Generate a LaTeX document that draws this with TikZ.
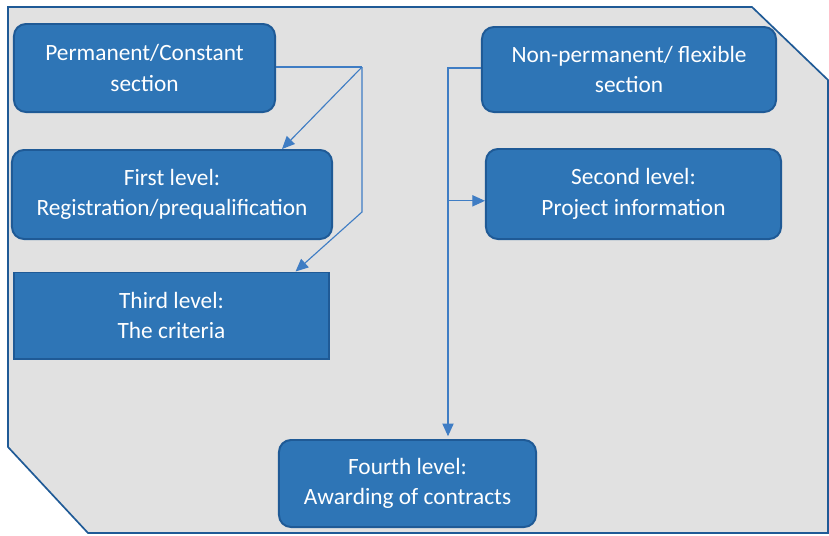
\documentclass[tikz,border=0pt]{standalone}
\usepackage{fontspec}
\setmainfont{Carlito}
\usetikzlibrary{arrows.meta}
\definecolor{boxblue}{HTML}{2E75B6}
\definecolor{boxedge}{HTML}{1F5A96}
\definecolor{linkblue}{HTML}{3F7DC4}
\definecolor{panelgray}{HTML}{E1E1E1}
\tikzset{
  level/.style={draw=boxedge, line width=1.4pt, fill=boxblue, text=white, rounded corners=0.3cm,
    align=center, font=\fontsize{16.6}{21.5}\selectfont, inner sep=0pt},
  flatlevel/.style={level, rounded corners=0pt},
  link/.style={draw=linkblue, line width=0.8pt},
  arr/.style={link, -{Triangle[length=9pt, width=8pt]}}
}
\begin{document}
\begin{tikzpicture}[x=0.025cm, y=-0.025cm]
    \useasboundingbox (0,0) rectangle (829,535);
	\filldraw[fill=panelgray, draw=boxedge, line width=1.2pt] (8,7) -- (752,7) -- (828,80) -- (828,533) -- (88,533) -- (8,447) -- cycle;
    % permanent part
    \node[level, minimum width=6.525cm, minimum height=2.2cm] (perm) at (144.5,68) {Permanent/Constant\\section};
    \node[level, minimum width=8cm, minimum height=2.225cm] (first) at (172,194.5) {First level:\\Registration/prequalification};
    \node[flatlevel, minimum width=7.875cm, minimum height=2.15cm] (third) at (171.5,315.5) {Third level:\\The criteria};
    % flexible part
    \node[level, minimum width=7.35cm, minimum height=2.125cm] (flex) at (629,69.5) {Non-permanent/ flexible\\section};
    \node[level, minimum width=7.375cm, minimum height=2.25cm] (second) at (633.5,194) {Second level:\\Project information};
    \node[level, minimum width=6.425cm, minimum height=2.175cm] (fourth) at (407.5,483.5) {Fourth level:\\Awarding of contracts};
    \coordinate (jl) at (362,67);
    \coordinate (jl2) at (362,212);
    \coordinate (jr) at (448,68);
	\draw[link] (perm.east |- jl) -- (jl);
    \draw[arr] (jl) -- ([xshift=2.75cm]first.north);
    \draw[arr] (jl) -- (jl2) -- ([xshift=3.1cm]third.north);
    \draw[arr] (flex.west |- jr) -- (jr) -- ([yshift=0.07cm]jr |- fourth.north);
    \draw[arr] ([yshift=-0.17cm]jr |- second.west) -- ([yshift=-0.17cm]second.west);
	\end{tikzpicture}
\end{document}
